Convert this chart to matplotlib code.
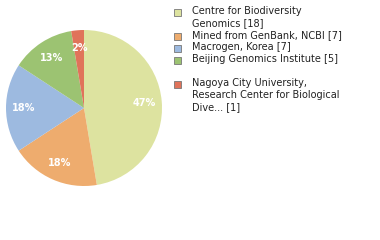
import matplotlib
matplotlib.use('Agg')
import matplotlib.pyplot as plt
from matplotlib.patches import Rectangle

# ─── Data ───────────────────────────────────────────────────────
labels = [
    'Centre for Biodiversity\nGenomics [18]',
    'Mined from GenBank, NCBI [7]',
    'Macrogen, Korea [7]',
    'Beijing Genomics Institute [5]',
    'Nagoya City University,\nResearch Center for Biological\nDive... [1]',
]
counts = [18, 7, 7, 5, 1]
colors = ['#dde3a0', '#eeac6e', '#9dbae0', '#9cc372', '#e0735a']

W, H = 380, 240
fig = plt.figure(figsize=(W / 100, H / 100), dpi=100)

# pie centred at (84,108) px, radius 78 px
cx, cy, r = 84, 108, 78
ax = fig.add_axes([(cx - r) / W, 1 - (cy + r) / H, 2 * r / W, 2 * r / H])
wedges, texts, autotexts = ax.pie(
    counts, colors=colors, startangle=90, counterclock=False,
    autopct='%d%%', pctdistance=0.77,
    wedgeprops=dict(linewidth=0),
    textprops=dict(color='white', fontsize=7, fontweight='bold'))
ax.set_xlim(-1, 1)
ax.set_ylim(-1, 1)
ax.set_aspect('auto')
ax.axis('off')

# ─── Legend (manual) ────────────────────────────────────────────
y_tops = [8, 32, 44, 56, 80]
for lab, col, yt in zip(labels, colors, y_tops):
    fig.patches.append(Rectangle((174 / W, 1 - (yt + 8) / H), 7 / W, 7 / H,
                                 transform=fig.transFigure, facecolor=col,
                                 edgecolor='#777777', linewidth=0.6))
    fig.text(192 / W, 1 - (yt - 2) / H, lab, fontsize=7, va='top', ha='left',
             color='#222222', linespacing=1.25)

fig.savefig('out.png', dpi=100)
